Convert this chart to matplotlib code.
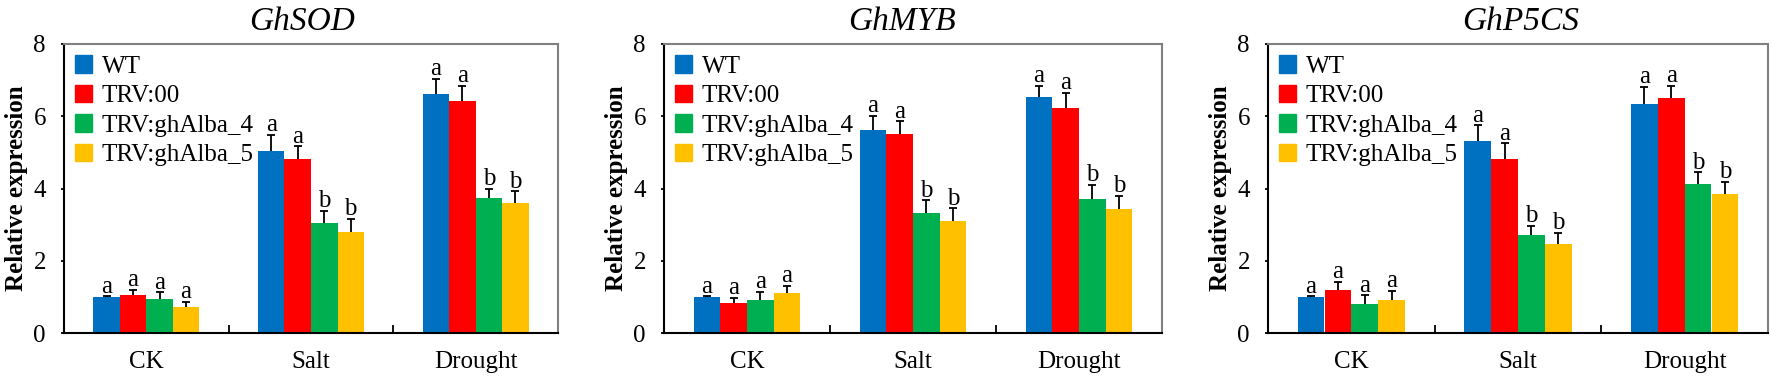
import numpy as np
import matplotlib
matplotlib.use("Agg")
from matplotlib import pyplot as plt
from matplotlib.patches import Patch

plt.rcParams['font.family'] = ['Liberation Serif', 'DejaVu Serif']

categories = ["CK", "Salt", "Drought"]
groups = ["WT", "TRV:00", "TRV:ghAlba_4", "TRV:ghAlba_5"]
colors = ["#0070C0", "#FF0000", "#00B050", "#FFC000"]
genes = ["GhSOD", "GhMYB", "GhP5CS"]

# mean values per group, [CK, Salt, Drought]
sod_mean = [[1.00, 5.03, 6.61],
            [1.04, 4.82, 6.41],
            [0.94, 3.04, 3.73],
            [0.71, 2.80, 3.60]]
sod_err = [[0.02, 0.45, 0.43],
           [0.16, 0.35, 0.44],
           [0.19, 0.35, 0.27],
           [0.15, 0.36, 0.32]]
sod_sig = [["a", "a", "a"], ["a", "a", "a"], ["a", "b", "b"], ["a", "b", "b"]]

myb_mean = [[1.00, 5.62, 6.54],
            [0.82, 5.52, 6.22],
            [0.92, 3.32, 3.70],
            [1.10, 3.11, 3.42]]
myb_err = [[0.02, 0.39, 0.31],
           [0.16, 0.34, 0.43],
           [0.22, 0.35, 0.41],
           [0.20, 0.34, 0.37]]
myb_sig = [["a", "a", "a"], ["a", "a", "a"], ["a", "b", "b"], ["a", "b", "b"]]

p5cs_mean = [[1.00, 5.31, 6.35],
             [1.20, 4.81, 6.51],
             [0.81, 2.71, 4.12],
             [0.91, 2.45, 3.84]]
p5cs_err = [[0.02, 0.44, 0.46],
            [0.21, 0.44, 0.33],
            [0.23, 0.25, 0.33],
            [0.25, 0.33, 0.35]]
p5cs_sig = [["a", "a", "a"], ["a", "a", "a"], ["a", "b", "b"], ["a", "b", "b"]]

means = [sod_mean, myb_mean, p5cs_mean]
errs = [sod_err, myb_err, p5cs_err]
sigs = [sod_sig, myb_sig, p5cs_sig]

fig = plt.figure(figsize=(17.72, 3.78), dpi=100)
lefts = [64 / 1772, 664 / 1772, 1268 / 1772]
widths = [494 / 1772, 498 / 1772, 500 / 1772]
title_x = [0.482, 0.478, 0.506]

x = np.arange(len(categories))
w = 0.161
cw = 0.024
fs = 18

for k in range(3):
    ax = fig.add_axes([lefts[k], 1 - 333 / 378, widths[k], 289 / 378])
    for i in range(4):
        xpos = x + (i - 1.5) * w
        vals = np.array(means[k][i])
        err = np.array(errs[k][i])
        ax.bar(xpos, vals, w, color=colors[i], label=groups[i], zorder=2)
        ax.vlines(xpos, vals, vals + err, color='black', lw=1.3, zorder=3)
        ax.hlines(vals + err, xpos - cw, xpos + cw, color='black', lw=1.3, zorder=3)
        for j in range(3):
            ax.annotate(sigs[k][i][j], (xpos[j], vals[j] + err[j]),
                        xytext=(0, -1), textcoords='offset points',
                        ha='center', va='bottom', fontsize=fs)

    ax.set_xlim(-0.5, 2.5)
    ax.set_ylim(0, 8)
    ax.set_yticks([0, 2, 4, 6, 8])
    ax.set_xticks(x)
    ax.set_xticklabels(categories)
    ax.set_xticks([0.5, 1.5], minor=True)
    ax.tick_params(axis='x', which='major', length=0, pad=13, labelsize=fs)
    ax.tick_params(axis='x', which='minor', direction='in', length=6, width=1.3)
    ax.tick_params(axis='y', length=2, width=1.3, pad=11, labelsize=fs)

    for side in ['left', 'bottom']:
        ax.spines[side].set_color('black')
        ax.spines[side].set_linewidth(1.5)
    for side in ['top', 'right']:
        ax.spines[side].set_color('#808080')
        ax.spines[side].set_linewidth(1.5)

    ax.set_ylabel("Relative expression", fontsize=fs, fontweight='bold', labelpad=4)
    ax.set_title(genes[k], fontsize=24, style='italic', x=title_x[k], pad=10)

    handles = [Patch(color=c) for c in colors]
    ax.legend(handles, groups, loc='upper left', frameon=False, fontsize=fs,
              handlelength=0.65, handleheight=0.7, handletextpad=0.4,
              labelspacing=0.28, borderaxespad=0.2, borderpad=0.25)

fig.savefig('out.png', dpi=100)
